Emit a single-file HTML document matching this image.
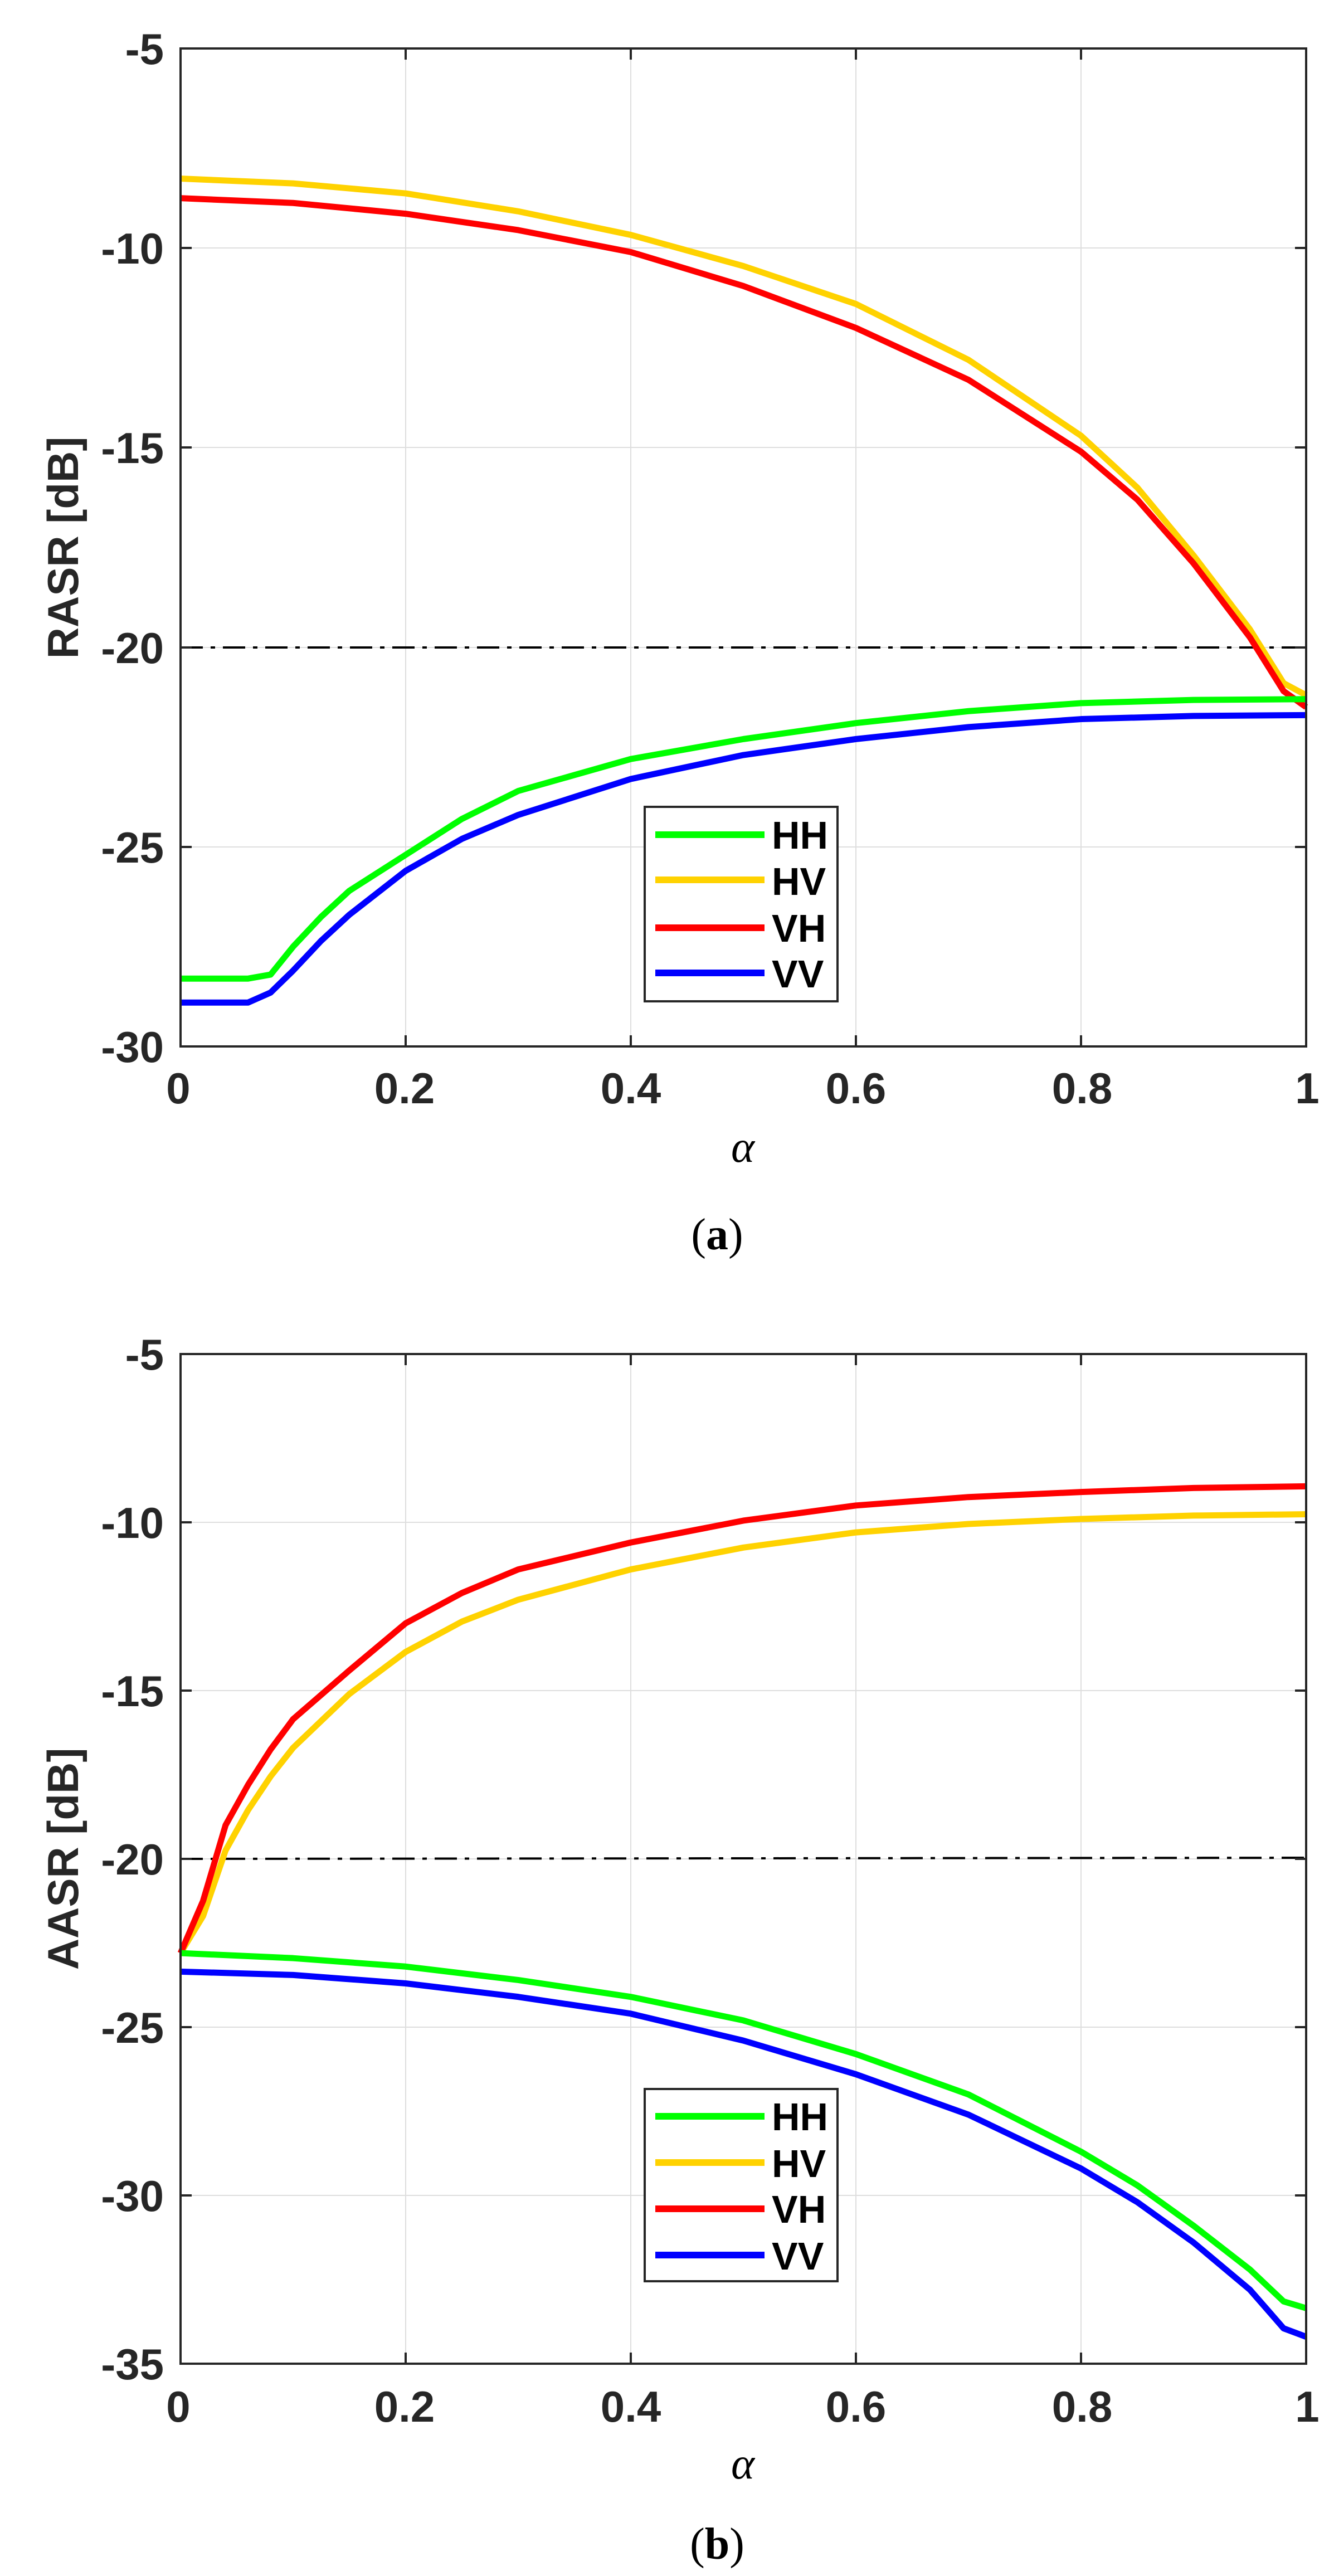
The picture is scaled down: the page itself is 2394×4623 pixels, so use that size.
<!DOCTYPE html>
<html><head><meta charset="utf-8"><style>
html,body{margin:0;padding:0;background:#fff;}
svg{display:block;}
.tk{font-family:"Liberation Sans",sans-serif;font-weight:bold;font-size:78px;fill:#262626;}
.lg{font-family:"Liberation Sans",sans-serif;font-weight:bold;font-size:70px;fill:#000;}
.cap{font-family:"Liberation Serif",serif;font-size:80px;fill:#000;}
</style></head><body>
<svg width="2394" height="4623" viewBox="0 0 2394 4623" xmlns="http://www.w3.org/2000/svg">
<rect width="2394" height="4623" fill="#fff"/>

<!-- ===== Plot A ===== -->
<g stroke="#dedede" stroke-width="2">
<line x1="728" y1="87" x2="728" y2="1878"/><line x1="1132" y1="87" x2="1132" y2="1878"/>
<line x1="1536" y1="87" x2="1536" y2="1878"/><line x1="1940" y1="87" x2="1940" y2="1878"/>
<line x1="324" y1="445" x2="2344" y2="445"/><line x1="324" y1="803" x2="2344" y2="803"/>
<line x1="324" y1="1162" x2="2344" y2="1162"/><line x1="324" y1="1520" x2="2344" y2="1520"/>
</g>
<line x1="324" y1="1162" x2="2344" y2="1162" stroke="#000" stroke-width="4" stroke-dasharray="40,14,8,14"/>
<g transform="translate(324,87) scale(2020,-71.64) translate(0,5)" fill="none" stroke-linejoin="round">
<polyline vector-effect="non-scaling-stroke" stroke="#ffd200" stroke-width="11" points="0,-8.26 0.1,-8.38 0.2,-8.63 0.3,-9.08 0.4,-9.67 0.5,-10.45 0.6,-11.4 0.7,-12.8 0.8,-14.7 0.85,-16.0 0.9,-17.7 0.95,-19.55 0.98,-20.9 1,-21.2"/>
<polyline vector-effect="non-scaling-stroke" stroke="#ff0000" stroke-width="11" points="0,-8.75 0.1,-8.87 0.2,-9.14 0.3,-9.55 0.4,-10.1 0.5,-10.95 0.6,-12.0 0.7,-13.3 0.8,-15.1 0.85,-16.3 0.9,-17.9 0.95,-19.75 0.98,-21.1 1,-21.5"/>
<polyline vector-effect="non-scaling-stroke" stroke="#00ff00" stroke-width="11" points="0,-28.3 0.06,-28.3 0.08,-28.2 0.1,-27.5 0.125,-26.75 0.15,-26.1 0.2,-25.2 0.25,-24.3 0.3,-23.6 0.4,-22.8 0.5,-22.3 0.6,-21.9 0.7,-21.6 0.8,-21.4 0.9,-21.32 1,-21.3"/>
<polyline vector-effect="non-scaling-stroke" stroke="#0000ff" stroke-width="11" points="0,-28.9 0.06,-28.9 0.08,-28.65 0.1,-28.1 0.125,-27.35 0.15,-26.7 0.2,-25.6 0.25,-24.8 0.3,-24.2 0.4,-23.3 0.5,-22.7 0.6,-22.3 0.7,-22.0 0.8,-21.8 0.9,-21.72 1,-21.7"/>
</g>
<rect x="324" y="87" width="2020" height="1791" fill="none" stroke="#262626" stroke-width="4"/>
<g stroke="#262626" stroke-width="4">
<line x1="728" y1="1878" x2="728" y2="1858"/><line x1="1132" y1="1878" x2="1132" y2="1858"/><line x1="1536" y1="1878" x2="1536" y2="1858"/><line x1="1940" y1="1878" x2="1940" y2="1858"/>
<line x1="728" y1="87" x2="728" y2="107"/><line x1="1132" y1="87" x2="1132" y2="107"/><line x1="1536" y1="87" x2="1536" y2="107"/><line x1="1940" y1="87" x2="1940" y2="107"/>
<line x1="324" y1="445" x2="344" y2="445"/><line x1="324" y1="803" x2="344" y2="803"/><line x1="324" y1="1162" x2="344" y2="1162"/><line x1="324" y1="1520" x2="344" y2="1520"/>
<line x1="2344" y1="445" x2="2324" y2="445"/><line x1="2344" y1="803" x2="2324" y2="803"/><line x1="2344" y1="1162" x2="2324" y2="1162"/><line x1="2344" y1="1520" x2="2324" y2="1520"/>
</g>
<g class="tk" text-anchor="end">
<text x="294" y="115">-5</text><text x="294" y="473">-10</text><text x="294" y="831">-15</text>
<text x="294" y="1190">-20</text><text x="294" y="1548">-25</text><text x="294" y="1906">-30</text>
</g>
<g class="tk" text-anchor="middle">
<text x="320" y="1980">0</text><text x="726" y="1980">0.2</text><text x="1132" y="1980">0.4</text>
<text x="1536" y="1980">0.6</text><text x="1942" y="1980">0.8</text><text x="2346" y="1980">1</text>
</g>
<text class="tk" transform="translate(140,983) rotate(-90)" text-anchor="middle">RASR [dB]</text>
<text class="cap" x="1333" y="2085" text-anchor="middle" font-style="italic">α</text>
<text class="cap" x="1287" y="2242" text-anchor="middle">(<tspan font-weight="bold">a</tspan>)</text>
<rect x="1157" y="1448" width="346" height="349" fill="#fff" stroke="#262626" stroke-width="4"/>
<g stroke-width="12">
<line x1="1176" y1="1498" x2="1372" y2="1498" stroke="#00ff00"/>
<line x1="1176" y1="1579" x2="1372" y2="1579" stroke="#ffd200"/>
<line x1="1176" y1="1665" x2="1372" y2="1665" stroke="#ff0000"/>
<line x1="1176" y1="1746" x2="1372" y2="1746" stroke="#0000ff"/>
</g>
<g class="lg"><text x="1385" y="1523">HH</text><text x="1385" y="1606">HV</text><text x="1385" y="1690">VH</text><text x="1385" y="1772">VV</text></g>

<!-- ===== Plot B ===== -->
<g stroke="#dedede" stroke-width="2">
<line x1="728" y1="2430" x2="728" y2="4242"/><line x1="1132" y1="2430" x2="1132" y2="4242"/>
<line x1="1536" y1="2430" x2="1536" y2="4242"/><line x1="1940" y1="2430" x2="1940" y2="4242"/>
<line x1="324" y1="2732" x2="2344" y2="2732"/><line x1="324" y1="3034" x2="2344" y2="3034"/>
<line x1="324" y1="3336" x2="2344" y2="3336"/><line x1="324" y1="3638" x2="2344" y2="3638"/>
<line x1="324" y1="3940" x2="2344" y2="3940"/>
</g>
<line x1="324" y1="3336" x2="2344" y2="3334" stroke="#000" stroke-width="4" stroke-dasharray="40,14,8,14"/>
<g transform="translate(324,2430) scale(2020,-60.4) translate(0,5)" fill="none" stroke-linejoin="round">
<polyline vector-effect="non-scaling-stroke" stroke="#ffd200" stroke-width="11" points="0,-22.8 0.02,-21.7 0.04,-19.75 0.06,-18.55 0.08,-17.55 0.1,-16.7 0.15,-15.1 0.2,-13.85 0.25,-12.95 0.3,-12.3 0.4,-11.4 0.5,-10.75 0.6,-10.3 0.7,-10.05 0.8,-9.9 0.9,-9.8 1,-9.76"/>
<polyline vector-effect="non-scaling-stroke" stroke="#ff0000" stroke-width="11" points="0,-22.8 0.02,-21.25 0.04,-19.0 0.06,-17.8 0.08,-16.75 0.1,-15.85 0.15,-14.4 0.2,-13.0 0.25,-12.1 0.3,-11.4 0.4,-10.6 0.5,-9.95 0.6,-9.5 0.7,-9.25 0.8,-9.1 0.9,-8.98 1,-8.93"/>
<polyline vector-effect="non-scaling-stroke" stroke="#00ff00" stroke-width="11" points="0,-22.8 0.1,-22.95 0.2,-23.2 0.3,-23.6 0.4,-24.1 0.5,-24.8 0.6,-25.8 0.7,-27.0 0.8,-28.7 0.85,-29.7 0.9,-30.9 0.95,-32.2 0.98,-33.15 1,-33.35"/>
<polyline vector-effect="non-scaling-stroke" stroke="#0000ff" stroke-width="11" points="0,-23.35 0.1,-23.45 0.2,-23.7 0.3,-24.1 0.4,-24.6 0.5,-25.4 0.6,-26.4 0.7,-27.6 0.8,-29.2 0.85,-30.2 0.9,-31.4 0.95,-32.8 0.98,-33.95 1,-34.2"/>
</g>
<rect x="324" y="2430" width="2020" height="1812" fill="none" stroke="#262626" stroke-width="4"/>
<g stroke="#262626" stroke-width="4">
<line x1="728" y1="4242" x2="728" y2="4222"/><line x1="1132" y1="4242" x2="1132" y2="4222"/><line x1="1536" y1="4242" x2="1536" y2="4222"/><line x1="1940" y1="4242" x2="1940" y2="4222"/>
<line x1="728" y1="2430" x2="728" y2="2450"/><line x1="1132" y1="2430" x2="1132" y2="2450"/><line x1="1536" y1="2430" x2="1536" y2="2450"/><line x1="1940" y1="2430" x2="1940" y2="2450"/>
<line x1="324" y1="2732" x2="344" y2="2732"/><line x1="324" y1="3034" x2="344" y2="3034"/><line x1="324" y1="3336" x2="344" y2="3336"/><line x1="324" y1="3638" x2="344" y2="3638"/><line x1="324" y1="3940" x2="344" y2="3940"/>
<line x1="2344" y1="2732" x2="2324" y2="2732"/><line x1="2344" y1="3034" x2="2324" y2="3034"/><line x1="2344" y1="3336" x2="2324" y2="3336"/><line x1="2344" y1="3638" x2="2324" y2="3638"/><line x1="2344" y1="3940" x2="2324" y2="3940"/>
</g>
<g class="tk" text-anchor="end">
<text x="294" y="2458">-5</text><text x="294" y="2760">-10</text><text x="294" y="3062">-15</text>
<text x="294" y="3364">-20</text><text x="294" y="3666">-25</text><text x="294" y="3968">-30</text><text x="294" y="4270">-35</text>
</g>
<g class="tk" text-anchor="middle">
<text x="320" y="4346">0</text><text x="726" y="4346">0.2</text><text x="1132" y="4346">0.4</text>
<text x="1536" y="4346">0.6</text><text x="1942" y="4346">0.8</text><text x="2346" y="4346">1</text>
</g>
<text class="tk" transform="translate(140,3336) rotate(-90)" text-anchor="middle">AASR [dB]</text>
<text class="cap" x="1333" y="4448" text-anchor="middle" font-style="italic">α</text>
<text class="cap" x="1287" y="4592" text-anchor="middle">(<tspan font-weight="bold">b</tspan>)</text>
<rect x="1157" y="3749" width="346" height="345" fill="#fff" stroke="#262626" stroke-width="4"/>
<g stroke-width="12">
<line x1="1176" y1="3798" x2="1372" y2="3798" stroke="#00ff00"/>
<line x1="1176" y1="3881" x2="1372" y2="3881" stroke="#ffd200"/>
<line x1="1176" y1="3964" x2="1372" y2="3964" stroke="#ff0000"/>
<line x1="1176" y1="4047" x2="1372" y2="4047" stroke="#0000ff"/>
</g>
<g class="lg"><text x="1385" y="3823">HH</text><text x="1385" y="3907">HV</text><text x="1385" y="3989">VH</text><text x="1385" y="4073">VV</text></g>
</svg>
</body></html>
